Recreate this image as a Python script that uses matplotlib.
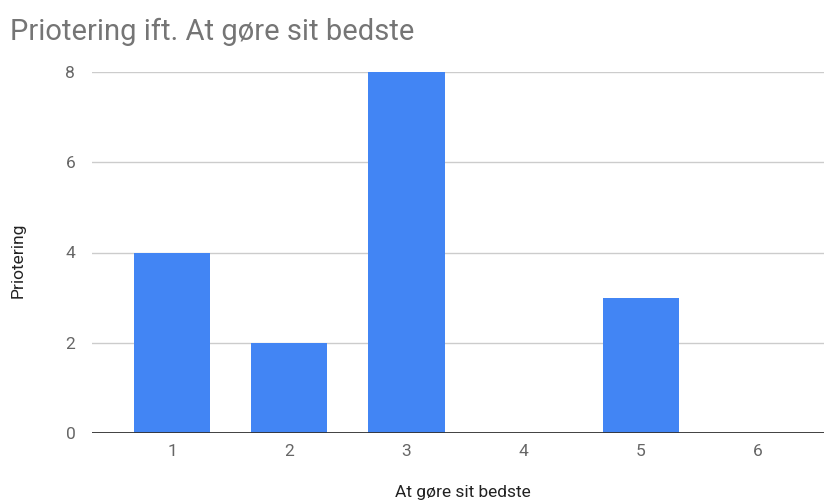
import matplotlib
matplotlib.use("Agg")
import matplotlib.pyplot as plt

categories = [1, 2, 3, 4, 5, 6]
values = [4, 2, 8, 0, 3, 0]
y_ticks = [0, 2, 4, 6, 8]

plt.rcParams['font.family'] = ['Roboto', 'DejaVu Sans']

W, H = 824, 503
fig = plt.figure(figsize=(W / 100, H / 100), dpi=100)
ax = fig.add_axes([92 / W, 1 - 433 / H, (824 - 92) / W, (433 - 72) / H])

ax.bar(categories, values, width=0.65, color='#4285F4', zorder=3)

ax.set_xlim(0.317, 6.563)
ax.set_ylim(0, 8)
ax.set_yticks(y_ticks)
ax.set_xticks(categories)
ax.set_xticklabels([str(c) for c in categories])

ax.grid(axis='y', color='#cccccc', linewidth=1, zorder=0)
ax.axhline(0, color='#333333', linewidth=1.3, zorder=4)
for s in ax.spines.values():
    s.set_visible(False)
ax.tick_params(axis='both', length=0, labelsize=12.5, colors='#666666')
ax.tick_params(axis='y', pad=12)
ax.tick_params(axis='x', pad=8)

fig.text(10 / W, 1 - 40 / H, 'Priotering ift. At gøre sit bedste',
         fontsize=21, color='#757575', ha='left', va='baseline')
fig.text(18 / W, 1 - 260 / H, 'Priotering', rotation=90, fontsize=12.5,
         color='#222222', ha='center', va='center')
fig.text(463 / W, 1 - 493 / H, 'At gøre sit bedste', fontsize=12.5,
         color='#222222', ha='center', va='center')

fig.savefig('out.png', dpi=100)
